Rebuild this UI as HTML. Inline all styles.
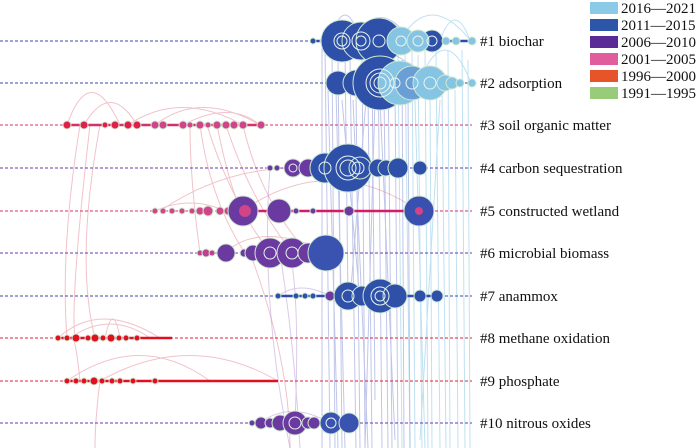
<!DOCTYPE html>
<html><head><meta charset="utf-8"><style>
html,body{margin:0;padding:0;background:#fff;}
svg{display:block}
text{font-family:"Liberation Serif",serif;font-size:15px;fill:#111}
.dl{stroke-width:1;stroke-dasharray:3,2}
</style></head><body>
<svg width="700" height="448" viewBox="0 0 700 448" xmlns="http://www.w3.org/2000/svg">
<g fill="none" stroke-width="1">
<g stroke="#5a6bc8" opacity="0.38">
<path d="M325 45 L330 448"/><path d="M332 50 L335 448"/><path d="M338 60 L342 448"/><path d="M345 50 L348 300"/><path d="M350 60 L356 448"/><path d="M356 90 L360 448"/><path d="M362 50 L365 448"/><path d="M368 90 L372 448"/><path d="M372 60 L375 400"/><path d="M378 50 L382 448"/><path d="M384 90 L388 448"/><path d="M388 60 L392 448"/><path d="M395 90 L398 448"/><path d="M402 60 L404 448"/><path d="M408 90 L410 448"/><path d="M336 90 L345 448"/><path d="M342 100 L360 300"/><path d="M366 100 L350 300"/><path d="M380 100 L395 440"/><path d="M322 48 L322 448"/><path d="M328 90 L338 448"/><path d="M353 100 L368 448"/><path d="M375 100 L365 448"/>
<path d="M330 40 Q345 -10 360 40"/><path d="M350 40 Q380 -5 410 40"/><path d="M360 80 Q390 30 420 80"/>
</g>
<g stroke="#8cc8e6" opacity="0.55">
<path d="M398 50 L402 448"/><path d="M405 50 L410 448"/><path d="M412 50 L415 448"/><path d="M418 55 L422 448"/><path d="M425 50 L428 448"/><path d="M430 90 L432 448"/><path d="M436 50 L440 448"/><path d="M442 90 L446 448"/><path d="M448 50 L450 448"/><path d="M455 90 L458 448"/><path d="M462 50 L465 448"/><path d="M468 60 L470 448"/><path d="M415 100 L425 448"/><path d="M440 100 L420 440"/>
<path d="M400 40 Q430 -10 470 40"/><path d="M420 80 Q445 20 470 80"/><path d="M440 40 Q455 0 470 40"/>
</g>
<g stroke="#e07a8a" opacity="0.45">
<path d="M67 125 Q90 60 120 125"/><path d="M84 125 Q110 80 137 125"/><path d="M128 125 Q180 90 243 125"/><path d="M155 125 Q200 90 260 125"/><path d="M183 125 Q230 100 260 125"/>
<path d="M200 125 Q210 200 245 253"/><path d="M207 125 Q230 200 270 253"/><path d="M217 125 Q230 190 242 211"/><path d="M226 125 Q250 200 293 253"/><path d="M190 125 Q190 180 200 253"/><path d="M243 125 Q260 200 308 253"/>
<path d="M160 211 Q220 170 290 168"/><path d="M242 211 Q330 150 419 211"/><path d="M155 211 Q190 195 225 211"/>
<path d="M225 253 Q260 220 330 253"/><path d="M250 253 Q290 360 290 448"/>
<path d="M80 125 Q60 250 67 338"/><path d="M90 125 Q70 300 75 338"/><path d="M100 125 Q75 260 95 338"/>
<path d="M58 338 Q100 300 160 338"/><path d="M70 338 Q110 310 150 338"/><path d="M105 338 Q113 300 120 338"/>
<path d="M67 381 Q140 330 210 381"/><path d="M100 381 Q190 330 278 381"/><path d="M80 381 Q75 330 70 338"/><path d="M100 381 Q95 420 95 448"/>
</g>
<g stroke="#b08ad0" opacity="0.45">
<path d="M270 168 Q260 300 290 448"/><path d="M280 253 Q295 350 300 448"/><path d="M290 253 Q300 300 295 423"/><path d="M260 423 Q290 400 330 423"/>
<path d="M278 296 Q300 280 330 296"/>
</g>
</g>
<line x1="0" y1="41" x2="472" y2="41" stroke="#3a4aa8" class="dl"/>
<line x1="0" y1="83" x2="472" y2="83" stroke="#3a4aa8" class="dl"/>
<line x1="0" y1="125" x2="472" y2="125" stroke="#d6306a" class="dl"/>
<line x1="0" y1="168" x2="472" y2="168" stroke="#6a3aa8" class="dl"/>
<line x1="0" y1="211" x2="472" y2="211" stroke="#d6306a" class="dl"/>
<line x1="0" y1="253" x2="472" y2="253" stroke="#6a3aa8" class="dl"/>
<line x1="0" y1="296" x2="472" y2="296" stroke="#3a4aa8" class="dl"/>
<line x1="0" y1="338" x2="472" y2="338" stroke="#e02030" class="dl"/>
<line x1="0" y1="381" x2="472" y2="381" stroke="#e02030" class="dl"/>
<line x1="0" y1="423" x2="472" y2="423" stroke="#6a3aa8" class="dl"/>
<g stroke-width="2.5">
<line x1="67" y1="125" x2="260" y2="125" stroke="#d6306a"/>
<line x1="250" y1="211" x2="419" y2="211" stroke="#d61a6a"/>
<line x1="58" y1="338" x2="172" y2="338" stroke="#e01020"/>
<line x1="67" y1="381" x2="278" y2="381" stroke="#e01020"/>
<line x1="313" y1="41" x2="472" y2="41" stroke="#2c4aa8"/>
<line x1="278" y1="296" x2="440" y2="296" stroke="#2c4aa8"/>
</g>
<g stroke="#cfe8d0" stroke-width="1">
<g fill="#2e50a8"><circle cx="313" cy="41" r="3"/><circle cx="323" cy="41" r="3"/><circle cx="342" cy="41" r="21"/><circle cx="361" cy="41" r="19"/><circle cx="379" cy="41" r="23"/><circle cx="432" cy="41" r="11"/></g>
<g fill="#86c4e4"><circle cx="401" cy="41" r="14"/><circle cx="418" cy="41" r="11"/><circle cx="446" cy="41" r="4"/><circle cx="456" cy="41" r="4"/><circle cx="472" cy="41" r="4"/></g>
<g fill="#2e50a8"><circle cx="338" cy="83" r="12"/><circle cx="356" cy="83" r="13"/><circle cx="380" cy="83" r="27"/><circle cx="410" cy="83" r="12"/></g>
<g fill="#86c4e4"><circle cx="400" cy="83" r="22"/><circle cx="412" cy="83" r="17" fill="#6a9fd6"/><circle cx="430" cy="83" r="17"/><circle cx="445" cy="83" r="8"/><circle cx="452" cy="83" r="6"/><circle cx="460" cy="83" r="4"/><circle cx="472" cy="83" r="4"/></g>
<g fill="#e0204a"><circle cx="67" cy="125" r="4"/><circle cx="84" cy="125" r="4"/><circle cx="105" cy="125" r="3"/><circle cx="115" cy="125" r="4"/><circle cx="128" cy="125" r="4"/><circle cx="137" cy="125" r="4"/></g>
<g fill="#d04488"><circle cx="155" cy="125" r="4"/><circle cx="163" cy="125" r="4"/><circle cx="183" cy="125" r="4"/><circle cx="190" cy="125" r="3"/><circle cx="200" cy="125" r="4"/><circle cx="208" cy="125" r="3"/><circle cx="217" cy="125" r="4"/><circle cx="226" cy="125" r="4"/><circle cx="234" cy="125" r="4"/><circle cx="243" cy="125" r="4"/><circle cx="261" cy="125" r="4"/></g>
<g fill="#6a3aa0"><circle cx="270" cy="168" r="3"/><circle cx="277" cy="168" r="3"/><circle cx="293" cy="168" r="9"/><circle cx="308" cy="168" r="9"/></g>
<g fill="#2e50a8"><circle cx="325" cy="168" r="15"/><circle cx="348" cy="168" r="24"/><circle cx="360" cy="168" r="11"/><circle cx="378" cy="168" r="9"/><circle cx="386" cy="168" r="8"/><circle cx="398" cy="168" r="10"/><circle cx="420" cy="168" r="7"/></g>
<g fill="#d04488"><circle cx="155" cy="211" r="3"/><circle cx="163" cy="211" r="3"/><circle cx="172" cy="211" r="3"/><circle cx="182" cy="211" r="3"/><circle cx="192" cy="211" r="3"/><circle cx="200" cy="211" r="4"/><circle cx="208" cy="211" r="5"/><circle cx="220" cy="211" r="4"/><circle cx="228" cy="211" r="4"/></g>
<g fill="#6a3aa0"><circle cx="243" cy="211" r="15"/><circle cx="279" cy="211" r="12"/><circle cx="296" cy="211" r="3"/><circle cx="313" cy="211" r="3"/><circle cx="349" cy="211" r="5"/></g>
<circle cx="419" cy="211" r="15" fill="#3a50b0"/><circle cx="419" cy="211" r="4" fill="#d04488" stroke="none"/>
<circle cx="245" cy="211" r="6" fill="#d04488" stroke="none"/>
<g fill="#c04090"><circle cx="200" cy="253" r="3"/><circle cx="206" cy="253" r="4"/><circle cx="212" cy="253" r="3"/></g>
<g fill="#6a3aa0"><circle cx="226" cy="253" r="9"/><circle cx="244" cy="253" r="4"/><circle cx="253" cy="253" r="8"/><circle cx="270" cy="253" r="15"/><circle cx="292" cy="253" r="15"/><circle cx="308" cy="253" r="10"/></g>
<circle cx="326" cy="253" r="18" fill="#3a52b0"/>
<g fill="#2e50a8"><circle cx="278" cy="296" r="3"/><circle cx="296" cy="296" r="3"/><circle cx="305" cy="296" r="3"/><circle cx="313" cy="296" r="3"/><circle cx="330" cy="296" r="5" fill="#6a3aa0"/><circle cx="348" cy="296" r="14"/><circle cx="362" cy="296" r="10"/><circle cx="380" cy="296" r="17"/><circle cx="395" cy="296" r="12"/><circle cx="420" cy="296" r="6"/><circle cx="437" cy="296" r="6"/></g>
<g fill="#e01020"><circle cx="58" cy="338" r="3"/><circle cx="67" cy="338" r="3"/><circle cx="76" cy="338" r="4"/><circle cx="88" cy="338" r="3"/><circle cx="95" cy="338" r="4"/><circle cx="103" cy="338" r="3"/><circle cx="111" cy="338" r="4"/><circle cx="119" cy="338" r="3"/><circle cx="126" cy="338" r="3"/><circle cx="137" cy="338" r="3"/></g>
<g fill="#e01020"><circle cx="67" cy="381" r="3"/><circle cx="76" cy="381" r="3"/><circle cx="84" cy="381" r="3"/><circle cx="94" cy="381" r="4"/><circle cx="102" cy="381" r="3"/><circle cx="112" cy="381" r="3"/><circle cx="120" cy="381" r="3"/><circle cx="133" cy="381" r="3"/><circle cx="155" cy="381" r="3"/></g>
<g fill="#6a3aa0"><circle cx="252" cy="423" r="3"/><circle cx="261" cy="423" r="6"/><circle cx="270" cy="423" r="5"/><circle cx="280" cy="423" r="8"/><circle cx="295" cy="423" r="12"/><circle cx="308" cy="423" r="6"/><circle cx="314" cy="423" r="6"/></g>
<g fill="#3a52b0"><circle cx="331" cy="423" r="11"/><circle cx="349" cy="423" r="10"/></g>
</g>
<g fill="none" stroke="#e8f4f0" stroke-width="1">
<circle cx="342" cy="41" r="5"/><circle cx="342" cy="41" r="8"/><circle cx="361" cy="41" r="5"/><circle cx="361" cy="41" r="9"/><circle cx="379" cy="41" r="6"/><circle cx="401" cy="41" r="5"/><circle cx="418" cy="41" r="5"/><circle cx="432" cy="41" r="5"/>
<circle cx="380" cy="83" r="6"/><circle cx="380" cy="83" r="10"/><circle cx="380" cy="83" r="14"/><circle cx="395" cy="83" r="5"/><circle cx="412" cy="83" r="6"/><circle cx="430" cy="83" r="6"/>
<circle cx="348" cy="168" r="8"/><circle cx="348" cy="168" r="12"/><circle cx="358" cy="168" r="6"/><circle cx="325" cy="168" r="6"/><circle cx="293" cy="168" r="4"/>
<circle cx="380" cy="296" r="5"/><circle cx="380" cy="296" r="9"/><circle cx="348" cy="296" r="6"/><circle cx="270" cy="253" r="6"/><circle cx="292" cy="253" r="6"/><circle cx="295" cy="423" r="6"/><circle cx="331" cy="423" r="5"/>
</g>
<text x="480" y="46">#1 biochar</text>
<text x="480" y="88">#2 adsorption</text>
<text x="480" y="130">#3 soil organic matter</text>
<text x="480" y="173">#4 carbon sequestration</text>
<text x="480" y="216">#5 constructed wetland</text>
<text x="480" y="258">#6 microbial biomass</text>
<text x="480" y="301">#7 anammox</text>
<text x="480" y="343">#8 methane oxidation</text>
<text x="480" y="386">#9 phosphate</text>
<text x="480" y="428">#10 nitrous oxides</text>
<rect x="590" y="2" width="28" height="12" fill="#8ccbe8"/>
<rect x="590" y="19" width="28" height="12" fill="#2d56a8"/>
<rect x="590" y="36" width="28" height="12" fill="#5a2a96"/>
<rect x="590" y="53" width="28" height="12" fill="#e05e9c"/>
<rect x="590" y="70" width="28" height="12" fill="#e8542a"/>
<rect x="590" y="87" width="28" height="12" fill="#98cc7a"/>
<text x="621" y="13">2016—2021</text>
<text x="621" y="30">2011—2015</text>
<text x="621" y="47">2006—2010</text>
<text x="621" y="64">2001—2005</text>
<text x="621" y="81">1996—2000</text>
<text x="621" y="98">1991—1995</text>
</svg>
</body></html>
